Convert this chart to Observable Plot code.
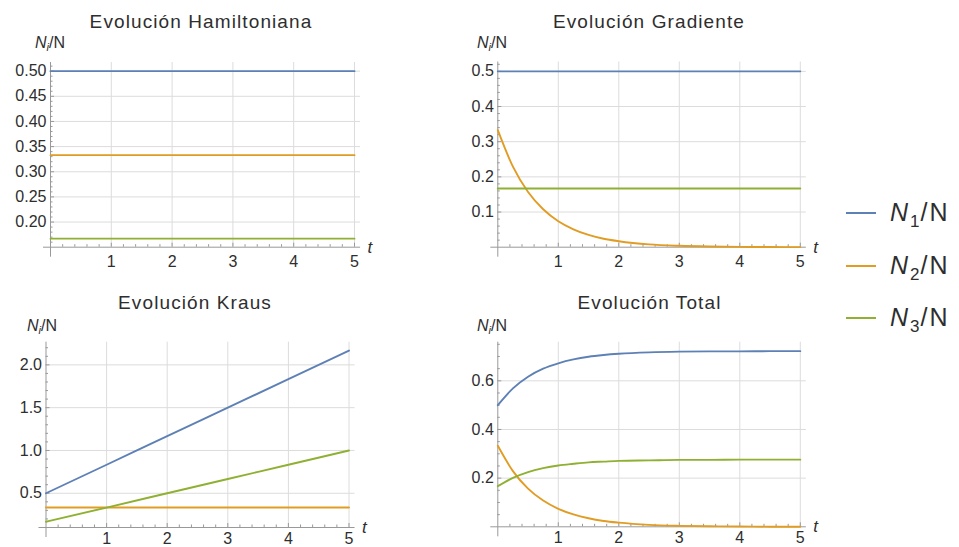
<!DOCTYPE html>
<html><head><meta charset="utf-8">
<script src="https://cdn.jsdelivr.net/npm/d3@7"></script>
<script src="https://cdn.jsdelivr.net/npm/@observablehq/plot@0.6"></script>
<style>
body{margin:0;background:#fff;font-family:"Liberation Sans",Arial,sans-serif;}
#wrap{position:relative;width:959px;height:547px;overflow:hidden;background:#fff;}
.panel{position:absolute;}
.title{position:absolute;font-size:19px;line-height:19px;letter-spacing:1.1px;color:#2e2e2e;transform:translateX(-50%);white-space:nowrap;}
.ylab{position:absolute;font-size:16px;line-height:16px;color:#2e2e2e;white-space:nowrap;}
.ylab sub{font-size:11px;vertical-align:-3px;line-height:0;}
.sw{position:absolute;width:30px;height:2px;}
.legtxt{position:absolute;font-size:25px;line-height:25px;letter-spacing:2px;color:#2e2e2e;white-space:nowrap;}
.legtxt sub{font-size:17px;vertical-align:-6px;line-height:0;letter-spacing:1px;}
</style></head><body><div id="wrap"></div>
<script>
// ---------- data ----------
const seriesNames = ["N1/N", "N2/N", "N3/N"];
const seriesColors = ["#5E81B5", "#E19C24", "#8FB032"];
const panelTitles = ["Evolución Hamiltoniana", "Evolución Gradiente", "Evolución Kraus", "Evolución Total"];

// Hamiltoniana (constant)
const tHam = [0, 5];
const hamN1 = [0.5, 0.5];
const hamN2 = [0.333, 0.333];
const hamN3 = [0.167, 0.167];

// Gradiente
const tCurve = [0, 0.25, 0.5, 0.75, 1, 1.25, 1.5, 1.75, 2, 2.5, 3, 3.5, 4, 4.5, 5];
const gradN1 = [0.5, 0.5, 0.5, 0.5, 0.5, 0.5, 0.5, 0.5, 0.5, 0.5, 0.5, 0.5, 0.5, 0.5, 0.5];
const gradN2 = [0.333, 0.229, 0.157, 0.108, 0.074, 0.051, 0.035, 0.024, 0.017, 0.008, 0.004, 0.002, 0.001, 0.0004, 0.0002];
const gradN3 = [0.167, 0.167, 0.167, 0.167, 0.167, 0.167, 0.167, 0.167, 0.167, 0.167, 0.167, 0.167, 0.167, 0.167, 0.167];

// Kraus
const tKraus = [0, 1, 2, 3, 4, 5];
const krausN1 = [0.5, 0.833, 1.167, 1.5, 1.833, 2.167];
const krausN2 = [0.333, 0.333, 0.333, 0.333, 0.333, 0.333];
const krausN3 = [0.167, 0.333, 0.5, 0.667, 0.833, 1.0];

// Total
const totN1 = [0.500, 0.569, 0.617, 0.650, 0.672, 0.688, 0.699, 0.706, 0.711, 0.717, 0.720, 0.721, 0.721, 0.722, 0.722];
const totN2 = [0.333, 0.229, 0.157, 0.108, 0.074, 0.051, 0.035, 0.024, 0.017, 0.008, 0.004, 0.002, 0.001, 0.0004, 0.0002];
const totN3 = [0.167, 0.201, 0.225, 0.241, 0.252, 0.259, 0.265, 0.268, 0.271, 0.273, 0.275, 0.275, 0.276, 0.276, 0.276];

// tick labels
const xTickLabels = [1, 2, 3, 4, 5];
const yTicksHam = [0.20, 0.25, 0.30, 0.35, 0.40, 0.45, 0.50];
const yTicksGrad = [0.1, 0.2, 0.3, 0.4, 0.5];
const yTicksKraus = [0.5, 1.0, 1.5, 2.0];
const yTicksTot = [0.2, 0.4, 0.6];

// ---------- helpers ----------
function rows(t, series) {
  const out = [];
  series.forEach((vals, k) => vals.forEach((v, i) => out.push({t: t[i], v, s: seriesNames[k]})));
  return out;
}

// layout (pixel geometry of each panel)
const layout = [
  {left: 0,   top: 0,   w: 420, h: 270, xO: 50,   xU: 60.8, yBase: 0.15, yBasePx: 246.7, yU: 503,   yTopPx: 62,   minorY: 0.01, fmt: ".2f", labDy: 14.5},
  {left: 420, top: 0,   w: 420, h: 270, xO: 77.3, xU: 60.5, yBase: 0,    yBasePx: 246.7, yU: 351.7, yTopPx: 61.5, minorY: 0.02, fmt: ".1f", labDy: 14.5},
  {left: 0,   top: 270, w: 420, h: 277, xO: 45.5, xU: 60.6, yBase: 0.1,  yBasePx: 257,   yU: 85.6,  yTopPx: 71.7, minorY: 0.1,  fmt: ".1f", labDy: 11.5},
  {left: 420, top: 270, w: 420, h: 277, xO: 77.3, xU: 60.5, yBase: 0,    yBasePx: 256.3, yU: 243.3, yTopPx: 71.7, minorY: 0.05, fmt: ".1f", labDy: 11.5}
];

const panelData = [
  rows(tHam, [hamN1, hamN2, hamN3]),
  rows(tCurve, [gradN1, gradN2, gradN3]),
  rows(tKraus, [krausN1, krausN2, krausN3]),
  rows(tCurve, [totN1, totN2, totN3])
];
const panelYTicks = [yTicksHam, yTicksGrad, yTicksKraus, yTicksTot];

const gridColor = "#dcdcdc";
const axisColor = "#999";
const textColor = "#2e2e2e";

function makePanel(spec, data, yMajor) {
  const xmin = -7 / spec.xU, xmax = 5.1;
  const ymin = spec.yBase - 10 / spec.yU;
  const ymax = spec.yBase + (spec.yBasePx - spec.yTopPx) / spec.yU;
  const eps = 1e-9;
  const xMinor = d3.range(0.2, 5.1 + eps, 0.2).filter(d => Math.abs(d - Math.round(d)) > 1e-6);
  const yMinorAll = d3.range(Math.ceil((spec.yBase + eps) / spec.minorY) * spec.minorY, ymax, spec.minorY);
  const yMinor = yMinorAll.filter(d => !yMajor.some(m => Math.abs(m - d) < 1e-6));
  const fmt = d3.format(spec.fmt);
  return Plot.plot({
    width: spec.w, height: spec.h, margin: 0,
    x: {axis: null, domain: [xmin, xmax], range: [spec.xO + xmin * spec.xU, spec.xO + xmax * spec.xU]},
    y: {axis: null, domain: [ymin, ymax], range: [spec.yBasePx + 10, spec.yTopPx]},
    color: {domain: seriesNames, range: seriesColors},
    style: {fontFamily: "'Liberation Sans', Arial, sans-serif", fontSize: "16px", color: textColor, background: "transparent", overflow: "visible"},
    marks: [
      // grid
      Plot.ruleX(xTickLabels, {x: d => d, y1: () => spec.yBase, y2: () => ymax, stroke: gridColor, strokeWidth: 1}),
      Plot.ruleY(yMajor, {y: d => d, x1: () => 0, x2: () => xmax, stroke: gridColor, strokeWidth: 1}),
      // axes
      Plot.ruleY([spec.yBase], {y: d => d, x1: () => xmin, x2: () => xmax, stroke: axisColor, strokeWidth: 1}),
      Plot.ruleX([0], {x: d => d, y1: () => ymin, y2: () => ymax, stroke: axisColor, strokeWidth: 1}),
      // x ticks (upward)
      Plot.ruleX(xTickLabels, {x: d => d, y1: () => spec.yBase, y2: () => spec.yBase, insetBottom: 4, stroke: axisColor}),
      Plot.ruleX(xMinor, {x: d => d, y1: () => spec.yBase, y2: () => spec.yBase, insetBottom: 2.5, stroke: axisColor}),
      // y ticks (rightward)
      Plot.ruleY(yMajor, {y: d => d, x1: () => 0, x2: () => 0, insetLeft: 4, stroke: axisColor}),
      Plot.ruleY(yMinor, {y: d => d, x1: () => 0, x2: () => 0, insetLeft: 2.5, stroke: axisColor}),
      // data
      Plot.line(data, {x: "t", y: "v", z: "s", stroke: "s", strokeWidth: 1.9, curve: "monotone-x"}),
      // tick labels
      Plot.text(yMajor, {x: () => 0, y: d => d, text: d => fmt(d), textAnchor: "end", dx: -4, fill: textColor, fontSize: 16, style: "letter-spacing:0.8px"}),
      Plot.text(xTickLabels, {x: d => d, y: () => spec.yBase, text: d => String(d), dy: spec.labDy, lineAnchor: "middle", fill: textColor, fontSize: 16}),
      Plot.text(["t"], {x: () => xmax, y: () => spec.yBase, text: d => d, textAnchor: "start", dx: 7, lineAnchor: "middle", fontStyle: "italic", fill: textColor, fontSize: 17})
    ]
  });
}

const wrap = document.getElementById("wrap");
layout.forEach((spec, i) => {
  const div = document.createElement("div");
  div.className = "panel";
  div.style.left = spec.left + "px";
  div.style.top = spec.top + "px";
  div.appendChild(makePanel(spec, panelData[i], panelYTicks[i]));
  wrap.appendChild(div);
});

// titles
const titlePos = [[201, 12], [649, 12], [195, 293], [649.5, 293]];
panelTitles.forEach((txt, i) => {
  const d = document.createElement("div");
  d.className = "title";
  d.style.left = titlePos[i][0] + "px";
  d.style.top = titlePos[i][1] + "px";
  d.textContent = txt;
  wrap.appendChild(d);
});

// y-axis labels N_i/N
const ylabPos = [[35, 35], [477, 35], [27, 318], [477, 318]];
ylabPos.forEach(([x, y]) => {
  const d = document.createElement("div");
  d.className = "ylab";
  d.style.left = x + "px";
  d.style.top = y + "px";
  d.innerHTML = "<i>N</i><sub><i>i</i></sub>/N";
  wrap.appendChild(d);
});

// legend
const legendY = [213, 266, 318];
seriesNames.forEach((name, k) => {
  const sw = document.createElement("div");
  sw.className = "sw";
  sw.style.left = "846px";
  sw.style.top = (legendY[k] - 1) + "px";
  sw.style.background = seriesColors[k];
  wrap.appendChild(sw);
  const t = document.createElement("div");
  t.className = "legtxt";
  t.style.left = "890px";
  t.style.top = (legendY[k] - 13) + "px";
  t.innerHTML = "<i>N</i><sub>" + (k + 1) + "</sub>/N";
  wrap.appendChild(t);
});
</script></body></html>
